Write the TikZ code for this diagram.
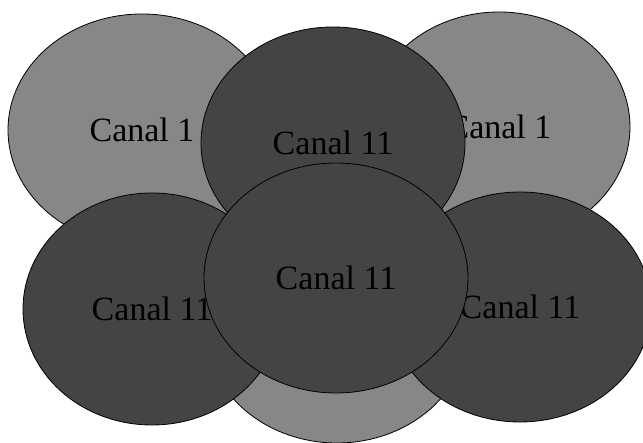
\documentclass[tikz,border=0pt]{standalone}
\usepackage{fontspec}
\setmainfont{Liberation Serif}
\usetikzlibrary{shapes.geometric}
\definecolor{celllight}{HTML}{878787}
\definecolor{celldark}{HTML}{444444}
\tikzset{
  cell/.style={ellipse, draw=black, line width=0.8pt, inner sep=0pt,
    font=\fontsize{34}{40}\selectfont, text=black},
  lightcell/.style={cell, fill=celllight},
  darkcell/.style={cell, fill=celldark},
}
\begin{document}
\begin{tikzpicture}[x=1pt,y=-1pt]
\useasboundingbox (0,0) rectangle (643,443);
\begin{scope}
\clip (0,0) rectangle (643,443);
\node[lightcell, minimum width=268pt, minimum height=232pt] (a) at (142,130) {Canal 1};
\node[lightcell, minimum width=262pt, minimum height=230pt] (b) at (499,127) {Canal 1};
\node[lightcell, minimum width=264pt, minimum height=232pt] (g) at (337,327) {};
\node[darkcell, minimum width=264pt, minimum height=232pt] (c) at (333,143) {Canal 11};
\node[darkcell, minimum width=258pt, minimum height=232pt] (d) at (152,309) {Canal 11};
\node[darkcell, minimum width=262pt, minimum height=230pt] (e) at (520,307) {Canal 11};
\node[darkcell, minimum width=264pt, minimum height=230pt] (f) at (336,278) {Canal 11};
\end{scope}
\end{tikzpicture}
\end{document}
